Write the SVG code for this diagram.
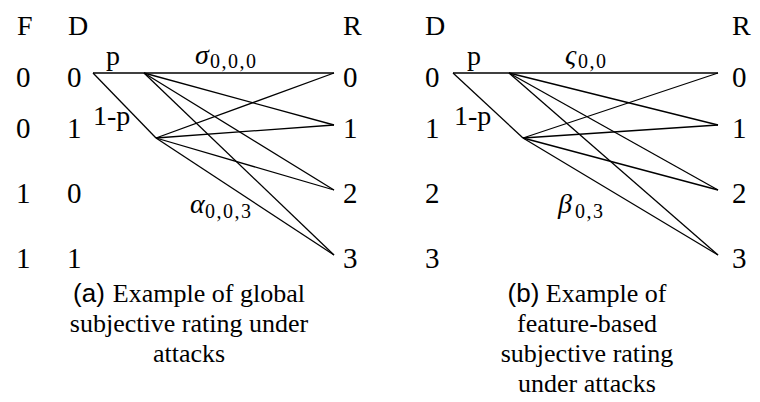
<svg xmlns="http://www.w3.org/2000/svg" width="760" height="402" viewBox="0 0 760 402">
<style>
text{font-family:'Liberation Serif','DejaVu Serif','Times New Roman',serif;fill:#000}
.m{font-size:29px}
.h{font-size:28px}
.g{font-size:28px;font-style:italic}
.s{font-size:20px;letter-spacing:1.5px}
.c{font-size:26px;text-anchor:middle}
.cs{font-family:'Liberation Sans',Arial,sans-serif}
.e{stroke:#000;stroke-width:1.3;fill:none}
</style>
<rect width="760" height="402" fill="#fff"/>
<g id="left-headers">
<text class="h" x="17" y="35">F</text>
<text class="h" x="68" y="35">D</text>
<text class="h" x="343" y="35">R</text>
</g>
<g id="left-F"><text class="m" x="16" y="87">0</text><text class="m" x="16" y="138">0</text><text class="m" x="16" y="203">1</text><text class="m" x="16" y="268">1</text></g>
<g id="left-D0"><text class="m" x="67" y="87">0</text></g>
<g id="left-D1"><text class="m" x="67" y="138">1</text></g>
<g id="left-D2"><text class="m" x="67" y="203">0</text></g>
<g id="left-D3"><text class="m" x="67" y="268">1</text></g>
<g id="left-R0"><text class="m" x="343" y="87">0</text></g>
<g id="left-R1"><text class="m" x="343" y="138">1</text></g>
<g id="left-R2"><text class="m" x="343" y="203">2</text></g>
<g id="left-R3"><text class="m" x="343" y="268">3</text></g>
<g id="left-connectors" class="e">
<line x1="93" y1="73" x2="334" y2="73"/>
<line x1="93" y1="73" x2="156" y2="138"/>
<line x1="144" y1="73" x2="334" y2="125"/>
<line x1="144" y1="73" x2="334" y2="190"/>
<line x1="144" y1="73" x2="334" y2="255"/>
<line x1="156" y1="138" x2="334" y2="73"/>
<line x1="156" y1="138" x2="334" y2="125"/>
<line x1="156" y1="138" x2="334" y2="190"/>
<line x1="156" y1="138" x2="334" y2="255"/>
</g>
<g id="left-labels">
<text class="h" x="106" y="65">p</text>
<text class="h" x="93" y="125">1-p</text>
<text class="g" x="195" y="64">σ</text><text class="s" x="210" y="68">0,0,0</text>
<text class="g" x="190" y="213">α</text><text class="s" x="205" y="218">0,0,3</text>
</g>
<g id="right-headers">
<text class="h" x="425" y="35">D</text>
<text class="h" x="732" y="35">R</text>
</g>
<g id="right-D0"><text class="m" x="425" y="87">0</text></g>
<g id="right-D1"><text class="m" x="425" y="138">1</text></g>
<g id="right-D2"><text class="m" x="425" y="203">2</text></g>
<g id="right-D3"><text class="m" x="425" y="268">3</text></g>
<g id="right-R0"><text class="m" x="732" y="87">0</text></g>
<g id="right-R1"><text class="m" x="732" y="138">1</text></g>
<g id="right-R2"><text class="m" x="732" y="203">2</text></g>
<g id="right-R3"><text class="m" x="732" y="268">3</text></g>
<g id="right-connectors" class="e">
<line x1="453" y1="73" x2="718" y2="73"/>
<line x1="453" y1="73" x2="523" y2="138"/>
<line x1="509" y1="73" x2="718" y2="125"/>
<line x1="509" y1="73" x2="718" y2="190"/>
<line x1="509" y1="73" x2="718" y2="255"/>
<line x1="523" y1="138" x2="718" y2="73"/>
<line x1="523" y1="138" x2="718" y2="125"/>
<line x1="523" y1="138" x2="718" y2="190"/>
<line x1="523" y1="138" x2="718" y2="255"/>
</g>
<g id="right-labels">
<text class="h" x="467" y="65">p</text>
<text class="h" x="454" y="125">1-p</text>
<text class="g" x="565" y="64">ς</text><text class="s" x="578" y="68">0,0</text>
<text class="g" x="558" y="213">β</text><text class="s" x="575" y="218">0,3</text>
</g>
<g id="caption-a">
<text class="c" x="189" y="302"><tspan class="cs">(a)</tspan><tspan dx="8">Example of global</tspan></text>
<text class="c" x="189" y="332">subjective rating under</text>
<text class="c" x="189" y="362">attacks</text>
</g>
<g id="caption-b">
<text class="c" x="587" y="302"><tspan class="cs">(b)</tspan> Example of</text>
<text class="c" x="587" y="332">feature-based</text>
<text class="c" x="587" y="362">subjective rating</text>
<text class="c" x="587" y="392">under attacks</text>
</g>
</svg>
